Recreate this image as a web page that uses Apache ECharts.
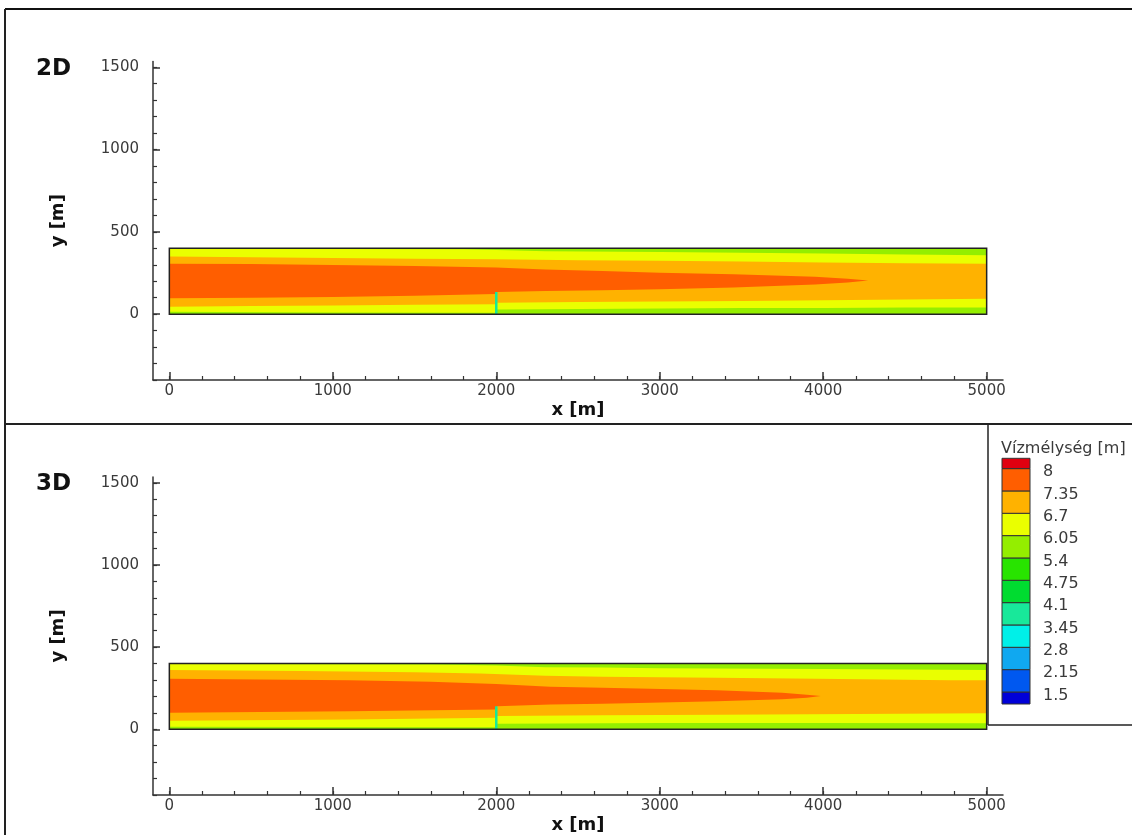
<!DOCTYPE html>
<html><head><meta charset="utf-8">
<script src="https://cdn.jsdelivr.net/npm/echarts@6/dist/echarts.min.js"></script>
<style>html,body{margin:0;padding:0;background:#fff}#c{width:1132px;height:835px}</style>
</head><body><div id="c"></div>
<script>
// ---------- DATA ----------
const panelTitles = ['2D', '3D'];
const legendTitle = 'Vízmélység [m]';
const levels = [1.5, 2.15, 2.8, 3.45, 4.1, 4.75, 5.4, 6.05, 6.7, 7.35, 8];
const levelColors = ['#0000d8', '#0058f0', '#10a8f0', '#00f0e8', '#18e89a', '#00dc30', '#28e400', '#94ee00', '#eaff00', '#ffb200', '#ff5e00', '#e00010'];
const legendExtent = [1.15, 8.3];
const xRange = [-100, 5100];
const yRange = [-400, 1535];
const xTicks = [0, 1000, 2000, 3000, 4000, 5000];
const xMinorTicks = [0, 200, 400, 600, 800, 1000, 1200, 1400, 1600, 1800, 2000, 2200, 2400, 2600, 2800, 3000, 3200, 3400, 3600, 3800, 4000, 4200, 4400, 4600, 4800, 5000];
const yTicks = [0, 500, 1000, 1500];
const yMinorTicks = [-400, -300, -200, -100, 0, 100, 200, 300, 400, 500, 600, 700, 800, 900, 1000, 1100, 1200, 1300, 1400, 1500];
const channelX = [0, 5000];
const channelY = [0, 400];

// 2D panel: band edges [x, y]
const d2YellowUpper = [[0,397],[1000,396],[1800,394],[2000,390],[2300,382],[3000,377],[3500,373],[4000,368],[4500,362],[5000,358]];
const d2YellowLower = [[0,14],[1000,10],[1995,8],[2005,28],[2500,32],[3000,35],[3500,37],[4000,38],[4500,40],[5000,40]];
const d2OrangeUpper = [[0,350],[500,346],[1000,341],[1500,337],[2000,334],[2500,328],[3000,324],[3500,320],[4000,314],[4500,309],[5000,307]];
const d2OrangeLower = [[0,45],[500,49],[1000,53],[1500,57],[1995,60],[2005,70],[2500,74],[3000,77],[3500,80],[4000,84],[4500,89],[5000,93]];
const d2RedUpper = [[0,306],[500,304],[1000,299],[1500,292],[2000,283],[2300,272],[2650,262],[3000,252],[3450,242],[3950,228],[4150,215],[4275,204]];
const d2RedLower = [[0,97],[500,100],[1000,105],[1500,112],[1995,122],[2005,134],[2300,140],[2650,145],[3000,151],[3450,162],[3950,180],[4150,192],[4275,204]];
const d2Groyne = [[2000,0],[2000,135]];

// 3D panel: band edges [x, y]
const d3YellowUpper = [[0,397],[1000,396],[1600,394],[2000,388],[2300,378],[2650,376],[3000,372],[4000,366],[5000,360]];
const d3YellowLower = [[0,16],[1000,14],[1995,12],[2005,34],[3000,38],[4000,38],[5000,36]];
const d3OrangeUpper = [[0,360],[800,354],[1500,347],[1900,339],[2300,325],[2650,320],[3350,313],[3960,307],[4780,299],[5000,299]];
const d3OrangeLower = [[0,52],[1100,60],[1995,70],[2005,80],[2650,86],[3350,89],[4200,93],[5000,97]];
const d3RedUpper = [[0,307],[1100,299],[1600,289],[2000,275],[2330,259],[2650,252],[2940,246],[3350,238],[3750,222],[3900,210],[3985,202]];
const d3RedLower = [[0,101],[1100,109],[1995,121],[2005,140],[2330,150],[2650,155],[2940,162],[3350,170],[3750,182],[3900,192],[3985,202]];
const d3Groyne = [[2000,0],[2000,140]];

// ---------- CHART ----------
const FONT = 'DejaVu Sans';
const AX = '#333';
const chart = echarts.init(document.getElementById('c'), null, {renderer: 'canvas'});
const plain = function (v) { return String(v); };

function band(upper, lower) { return upper.concat(lower.slice().reverse()); }
function polySeries(ai, pts, fill, stroke, z) {
  return {
    type: 'custom', xAxisIndex: ai, yAxisIndex: ai, data: pts, silent: true, animation: false, z: z, clip: false,
    renderItem: function (params, api) {
      if (params.dataIndex !== 0) return null;
      return {type: 'polygon', shape: {points: pts.map(function (p) { return api.coord(p); })},
        style: {fill: fill || 'none', stroke: stroke || null, lineWidth: stroke ? 1.5 : 0}};
    }
  };
}
const rectPts = [[channelX[0],channelY[0]],[channelX[1],channelY[0]],[channelX[1],channelY[1]],[channelX[0],channelY[1]]];
const panelData = [
  {yu: d2YellowUpper, yl: d2YellowLower, ou: d2OrangeUpper, ol: d2OrangeLower, ru: d2RedUpper, rl: d2RedLower, g: d2Groyne},
  {yu: d3YellowUpper, yl: d3YellowLower, ou: d3OrangeUpper, ol: d3OrangeLower, ru: d3RedUpper, rl: d3RedLower, g: d3Groyne}
];
const grids = [
  {left: 153, top: 61.5, width: 850, height: 318.5},
  {left: 153, top: 477, width: 850, height: 319},
  {left: 1002, top: 458.3, width: 28, height: 245.7}
];
const xAxes = [], yAxes = [], series = [];
panelData.forEach(function (pd, p) {
  xAxes.push({gridIndex: p, type: 'value', min: xRange[0], max: xRange[1], position: 'bottom',
    axisLine: {show: true, onZero: false, lineStyle: {color: AX, width: 1.5}},
    axisTick: {show: true, inside: true, length: 8, customValues: xTicks, lineStyle: {color: AX, width: 1.5}},
    axisLabel: {customValues: xTicks, formatter: plain, margin: 4, fontFamily: FONT, fontSize: 15, color: '#3a3a3a'},
    splitLine: {show: false},
    name: 'x [m]', nameLocation: 'middle', nameGap: 21,
    nameTextStyle: {fontFamily: FONT, fontWeight: 'bold', fontSize: 18, color: '#111'}});
  xAxes.push({gridIndex: p, type: 'value', min: xRange[0], max: xRange[1], position: 'bottom', offset: 0,
    axisLine: {show: false, onZero: false},
    axisTick: {show: true, inside: true, length: 4, customValues: xMinorTicks, lineStyle: {color: AX, width: 1.2}},
    axisLabel: {show: false}, splitLine: {show: false}});
  yAxes.push({gridIndex: p, type: 'value', min: yRange[0], max: yRange[1], position: 'left',
    axisLine: {show: true, onZero: false, lineStyle: {color: AX, width: 1.5}},
    axisTick: {show: true, inside: true, length: 7, customValues: yTicks, lineStyle: {color: AX, width: 1.5}},
    axisLabel: {customValues: yTicks, formatter: plain, margin: 14, fontFamily: FONT, fontSize: 15, color: '#3a3a3a'},
    splitLine: {show: false},
    name: 'y [m]', nameLocation: 'middle', nameGap: 86,
    nameTextStyle: {fontFamily: FONT, fontWeight: 'bold', fontSize: 18, color: '#111'}});
  yAxes.push({gridIndex: p, type: 'value', min: yRange[0], max: yRange[1], position: 'left', offset: 0,
    axisLine: {show: false, onZero: false},
    axisTick: {show: true, inside: true, length: 4, customValues: yMinorTicks, lineStyle: {color: AX, width: 1.2}},
    axisLabel: {show: false}, splitLine: {show: false}});
  const ai = 2 * p;
  series.push(polySeries(ai, rectPts, levelColors[7], null, 1));
  series.push(polySeries(ai, band(pd.yu, pd.yl), levelColors[8], null, 2));
  series.push(polySeries(ai, band(pd.ou, pd.ol), levelColors[9], null, 3));
  series.push(polySeries(ai, band(pd.ru, pd.rl), levelColors[10], null, 4));
  series.push({type: 'line', xAxisIndex: ai, yAxisIndex: ai, data: pd.g, symbol: 'none', silent: true, animation: false, z: 5,
    lineStyle: {color: levelColors[4], width: 2.5}});
  series.push(polySeries(ai, rectPts, null, '#222', 6));
});
// legend grid axes
xAxes.push({gridIndex: 2, type: 'value', min: 0, max: 1, show: false});
yAxes.push({gridIndex: 2, type: 'value', min: legendExtent[0], max: legendExtent[1], position: 'right',
  axisLine: {show: false}, axisTick: {show: false}, splitLine: {show: false},
  axisLabel: {customValues: levels, margin: 13,
    formatter: function (v) { return '{a|' + v + '}'; },
    rich: {a: {fontFamily: FONT, fontSize: 16, color: '#3a3a3a', padding: [7, 0, 0, 0]}}}});
const legendPieces = levelColors.map(function (c, i) {
  return [i === 0 ? legendExtent[0] : levels[i - 1], i === levelColors.length - 1 ? legendExtent[1] : levels[i], i];
});
series.push({type: 'custom', xAxisIndex: 4, yAxisIndex: 4, data: legendPieces, silent: true, animation: false,
  renderItem: function (params, api) {
    const a = api.coord([0, api.value(1)]);
    const b = api.coord([1, api.value(0)]);
    return {type: 'rect', shape: {x: a[0], y: a[1], width: b[0] - a[0], height: b[1] - a[1]},
      style: {fill: levelColors[api.value(2)], stroke: '#333', lineWidth: 1}};
  }});

chart.setOption({
  backgroundColor: '#fff',
  animation: false,
  title: [
    {text: panelTitles[0], left: 36, top: 58, padding: 0, textStyle: {fontFamily: FONT, fontWeight: 'bold', fontSize: 23, color: '#111'}},
    {text: panelTitles[1], left: 36, top: 473, padding: 0, textStyle: {fontFamily: FONT, fontWeight: 'bold', fontSize: 23, color: '#111'}},
    {text: legendTitle, left: 1001, top: 441, padding: 0, textStyle: {fontFamily: FONT, fontWeight: 'normal', fontSize: 16, color: '#3a3a3a'}}
  ],
  grid: grids,
  xAxis: xAxes,
  yAxis: yAxes,
  series: series,
  graphic: [
    {type: 'line', shape: {x1: 5, y1: 9, x2: 1132, y2: 9}, style: {stroke: '#111', lineWidth: 2}},
    {type: 'line', shape: {x1: 5, y1: 9, x2: 5, y2: 835}, style: {stroke: '#222', lineWidth: 2}},
    {type: 'line', shape: {x1: 5, y1: 424, x2: 1132, y2: 424}, style: {stroke: '#222', lineWidth: 2}},
    {type: 'line', shape: {x1: 988, y1: 424, x2: 988, y2: 725}, style: {stroke: '#222', lineWidth: 1.5}},
    {type: 'line', shape: {x1: 988, y1: 725, x2: 1132, y2: 725}, style: {stroke: '#222', lineWidth: 1.5}}
  ]
});
</script></body></html>
